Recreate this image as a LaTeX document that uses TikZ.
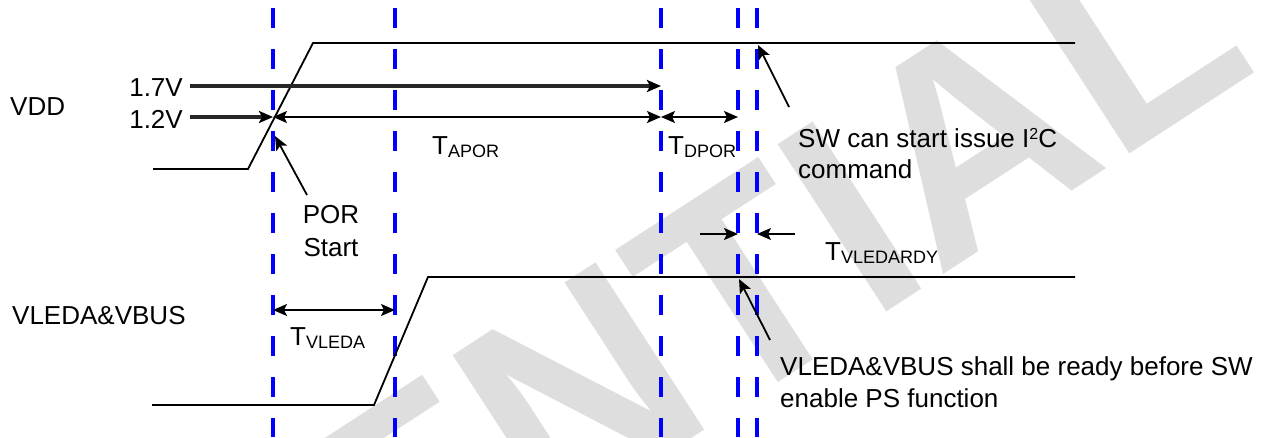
\documentclass[tikz,border=0pt]{standalone}
\usepackage{fontspec}
\setmainfont{Liberation Sans}
\usetikzlibrary{arrows.meta}
\newcommand\sbx[1]{\raisebox{-3.5pt}{\fontsize{18}{18}\selectfont #1}}
\newcommand\spx[1]{\raisebox{8pt}{\fontsize{16}{16}\selectfont #1}}
\begin{document}
\begin{tikzpicture}[x=1pt,y=-1pt,
  sig/.style={line width=1.8pt},
  vline/.style={draw={rgb,255:red,0;green,0;blue,255}, line width=3.6pt, dash pattern=on 20pt off 21pt},
  dense/.style={line width=3.2pt, draw=black!85},
  ar/.style={line width=1.8pt, -{Stealth[length=14pt,width=12pt,inset=3pt,color=black]}},
  dar/.style={line width=1.8pt, {Stealth[length=14pt,width=12pt,inset=3pt]}-{Stealth[length=14pt,width=12pt,inset=3pt]}},
  lbl/.style={inner sep=0pt, font=\fontsize{26}{31}\selectfont},
  wm/.style={inner sep=0pt, text=black!13, font=\fontsize{290}{290}\selectfont\bfseries},
]
\useasboundingbox (0,0) rectangle (1280,437);
\begin{scope}
  \clip (0,0) rectangle (1280,437);
  \node[wm, rotate=33, anchor=base east] (wmk) at (1262,68) {CONFIDENTIAL};
\end{scope}

% blue dashed time markers
\foreach \n/\x in {a/273,b/395,c/661,d/738,e/757}{
  \coordinate (\n t) at (\x,8);
  \coordinate (\n b) at (\x,437);
  \draw[vline] (\n t) -- (\n b);
}

% signals
\coordinate (v0) at (153,169); \coordinate (v1) at (248,169);
\coordinate (v2) at (313,43);  \coordinate (v3) at (1075,43);
\draw[sig] (v0) -- (v1) -- (v2) -- (v3);
\coordinate (l0) at (152,405); \coordinate (l1) at (374,405);
\coordinate (l2) at (428,277); \coordinate (l3) at (1075,277);
\draw[sig] (l0) -- (l1) -- (l2) -- (l3);

% threshold lines
\coordinate (s17) at (190,86);  \coordinate (e17) at (661,86);
\draw[dense, -{Stealth[length=14pt,width=12pt,inset=3pt,color=black]}] (s17) -- (e17);
\coordinate (s12) at (190,117); \coordinate (p12) at (273,117);
\coordinate (q12) at (661,117); \coordinate (r12) at (738,117);
\draw[dense, -{Stealth[length=14pt,width=12pt,inset=3pt,color=black]}] (s12) -- (p12);
\draw[dar] (p12) -- (q12);
\draw[dar] (q12) -- (r12);

% TVLEDARDY
\coordinate (k0) at (700,234); \coordinate (k1) at (738,234);
\coordinate (k2) at (795,234); \coordinate (k3) at (757,234);
\draw[ar] (k0) -- (k1);
\draw[ar] (k2) -- (k3);

% TVLEDA
\coordinate (m0) at (273,310); \coordinate (m1) at (395,310);
\draw[dar] (m0) -- (m1);

% pointers
\coordinate (pa) at (307,195); \coordinate (pb) at (275,136);
\draw[ar] (pa) -- (pb);
\coordinate (sa) at (789,107); \coordinate (sb) at (758,45);
\draw[ar] (sa) -- (sb);
\coordinate (ua) at (770,340); \coordinate (ub) at (739,279);
\draw[ar] (ua) -- (ub);

% labels
\node[lbl, anchor=base west] (vdd) at (10,115) {VDD};
\node[lbl, anchor=base east] (t17) at (183,96) {1.7V};
\node[lbl, anchor=base east] (t12) at (183,128) {1.2V};
\node[lbl, anchor=base west] (tapor) at (432,154) {T\sbx{APOR}};
\node[lbl, anchor=base west] (tdpor) at (668,154) {T\sbx{DPOR}};
\node[lbl, anchor=base west] (sw1) at (798,147) {SW can start issue I\spx{2}C};
\node[lbl, anchor=base west] (sw2) at (798,178) {command};
\node[lbl, anchor=base] (por1) at (331,223) {POR};
\node[lbl, anchor=base] (por2) at (331,256) {Start};
\node[lbl, anchor=base west] (tvr) at (825,260) {T\sbx{VLEDARDY}};
\node[lbl, anchor=base west] (vleda) at (12,324) {VLEDA\&VBUS};
\node[lbl, anchor=base west] (tvl) at (290,345) {T\sbx{VLEDA}};
\node[lbl, anchor=base west] (n1) at (780,375) {VLEDA\&VBUS shall be ready before SW};
\node[lbl, anchor=base west] (n2) at (780,407) {enable PS function};
\end{tikzpicture}
\end{document}
